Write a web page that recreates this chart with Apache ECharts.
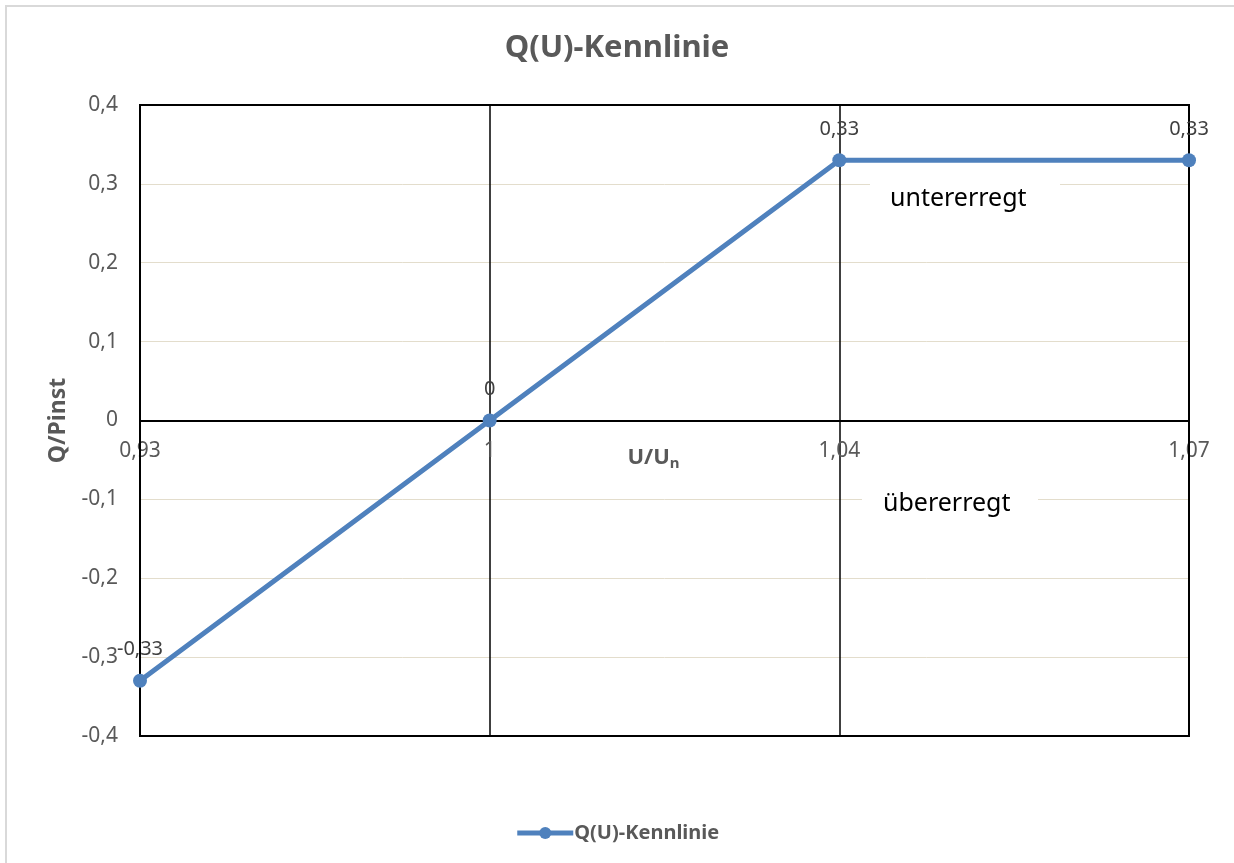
<!DOCTYPE html>
<html lang="de">
<head>
  <meta charset="utf-8">
  <title>Q(U)-Kennlinie</title>
  <script src="https://cdn.jsdelivr.net/npm/echarts@6/dist/echarts.min.js"></script>
  <style>
    html, body { margin: 0; padding: 0; background: #fff; }
    #chart { width: 1234px; height: 863px; }
  </style>
</head>
<body>
  <div id="chart"></div>
  <script type="text/javascript">
// Werte aus dem Diagramm
var uLabels = ['0,93', '1', '1,04', '1,07'];
var qValues = [-0.33, 0, 0.33, 0.33];
var yTicks = { min: -0.4, max: 0.4, step: 0.1 };

var grau = '#595959';
var blau = '#4f81bd';
var schrift = '"Noto Sans", "Open Sans", sans-serif';

// Plotbereich
var gridLeft = 140, gridRight = 45, gridTop = 105, gridBottom = 127;
var plotBreite = 1234 - gridLeft - gridRight;
var plotHoehe = 863 - gridTop - gridBottom;

function komma(v) {
  return String(+Number(v).toFixed(2)).replace('.', ',');
}

var myChart = echarts.init(document.getElementById('chart'));

var option = {
  backgroundColor: '#fff',
  textStyle: { fontFamily: schrift },
  title: {
    text: 'Q(U)-Kennlinie',
    left: 'center',
    top: 28,
    textStyle: { fontSize: 31, fontWeight: 'bold', color: grau, fontFamily: schrift }
  },
  legend: {
    top: 818,
    left: 'center',
    itemWidth: 56,
    itemHeight: 15,
    itemGap: 4,
    data: ['Q(U)-Kennlinie'],
    lineStyle: { width: 5 },
    textStyle: { fontSize: 20, fontWeight: 'bold', color: grau, fontFamily: schrift, padding: [0, 0, 0, -4] }
  },
  grid: {
    left: gridLeft, right: gridRight, top: gridTop, bottom: gridBottom
  },
  xAxis: {
    type: 'category',
    data: uLabels,
    boundaryGap: false,
    // Achse auf Höhe der Null legen (Wertebereich symmetrisch)
    offset: -plotHoehe / 2,
    axisLine: { onZero: false, lineStyle: { color: '#000', width: 2 } },
    axisTick: { show: false },
    axisLabel: { color: grau, fontSize: 21, margin: 20 },
    splitLine: {
      show: true,
      interval: function (i) { return i === 1 || i === 2; },
      lineStyle: { color: '#000', width: 1.5 }
    },
    name: 'U/U{sub|n}',
    nameLocation: 'middle',
    nameGap: 24,
    nameMoveOverlap: false,
    nameTextStyle: {
      fontSize: 22, fontWeight: 'bold', color: grau, padding: [0, 22, 0, 0],
      rich: { sub: { fontSize: 15, fontWeight: 'bold', color: grau, padding: [12, 0, 0, 0] } }
    }
  },
  yAxis: {
    type: 'value',
    min: yTicks.min,
    max: yTicks.max,
    interval: yTicks.step,
    axisLine: { show: false },
    axisTick: { show: false },
    axisLabel: { color: grau, fontSize: 21, margin: 22, formatter: komma },
    splitLine: { lineStyle: { color: '#e3ddcc', width: 1 } },
    name: 'Q/Pinst',
    nameLocation: 'middle',
    nameGap: 70,
    nameTextStyle: { fontSize: 23, fontWeight: 'bold', color: grau }
  },
  graphic: [
    { type: 'rect', silent: true, z: -10,
      shape: { x: 6, y: 6, width: 1300, height: 900 },
      style: { fill: 'none', stroke: '#d9d9d9', lineWidth: 2 } },
    // Rahmen des Plotbereichs
    { type: 'rect', silent: true, z: 3,
      shape: { x: gridLeft, y: gridTop, width: plotBreite, height: plotHoehe },
      style: { fill: 'none', stroke: '#000', lineWidth: 2 } },
    { type: 'rect', z: 5,
      shape: { x: 870, y: 172, width: 190, height: 36 }, style: { fill: '#fff' } },
    { type: 'text', left: 890, top: 186, z: 6,
      style: { text: 'untererregt', font: '25px ' + schrift, fill: '#000' } },
    { type: 'rect', z: 5,
      shape: { x: 862, y: 487, width: 176, height: 36 }, style: { fill: '#fff' } },
    { type: 'text', left: 883, top: 491, z: 6,
      style: { text: 'übererregt', font: '25px ' + schrift, fill: '#000' } }
  ],
  series: [
    {
      name: 'Q(U)-Kennlinie',
      type: 'line',
      data: qValues,
      z: 10,
      color: blau,
      symbol: 'circle',
      symbolSize: 14,
      lineStyle: { width: 5, color: blau },
      label: {
        show: true,
        position: 'top',
        distance: 14,
        color: '#404040',
        fontSize: 20,
        formatter: function (p) { return komma(p.value); }
      }
    }
  ]
};

myChart.setOption(option);
  </script>
</body>
</html>
